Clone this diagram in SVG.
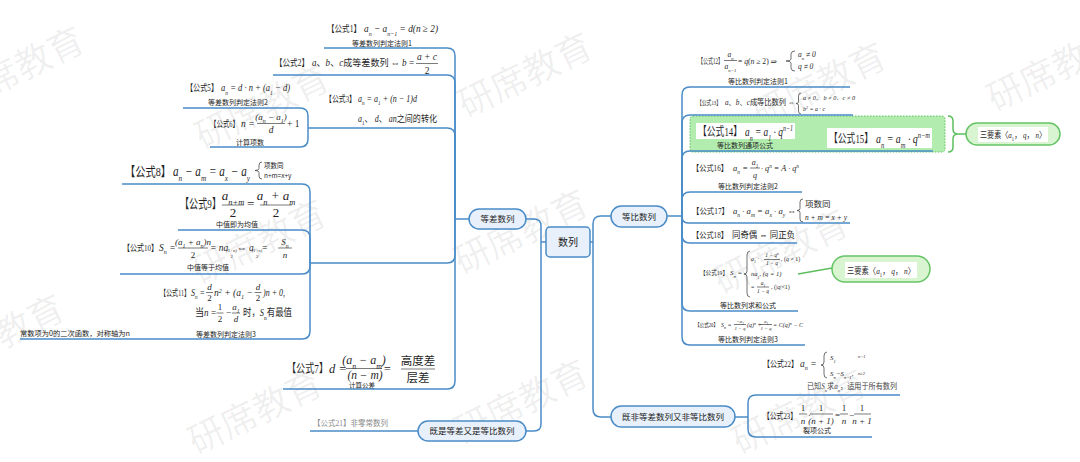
<svg xmlns="http://www.w3.org/2000/svg" width="1080" height="462" viewBox="0 0 1080 462">
<style>
.ln{fill:none;stroke:#4a8cc8;stroke-width:1.5}
.gl{fill:none;stroke:#5dbf5d;stroke-width:1.5}
.pill{fill:#e8f1fb;stroke:#4a8cc8;stroke-width:1.5}
.gp{fill:#d8f4d0;stroke:#66c466;stroke-width:1.5}
.nt{font-family:"Noto Sans CJK SC",sans-serif;font-size:8.5px;fill:#1a1a1a;text-anchor:middle}
.m{font-family:"Liberation Serif","DejaVu Serif","Noto Sans CJK SC",serif;fill:#1f1f1f}
.v{font-style:italic}
.c{text-anchor:middle}
.sb{font-size:65%;baseline-shift:sub}
.sp{font-size:65%;baseline-shift:super}
.lb{font-family:"Noto Sans CJK SC",sans-serif;font-size:7px;fill:#222;text-anchor:middle}
.sm{font-family:"Noto Sans CJK SC",sans-serif;font-size:6.5px;fill:#222}
.fr{stroke:#222;stroke-width:0.6}
.br{fill:none;stroke:#333;stroke-width:0.7}
.wm{font-family:"Noto Sans CJK SC",sans-serif;font-size:36px;fill:#000;fill-opacity:0.065}
</style>

<g id="watermark">
<text class="wm" transform="translate(-42 112) rotate(-26)">研席教育</text>
<text class="wm" transform="translate(203 150) rotate(-26)">研席教育</text>
<text class="wm" transform="translate(466 118) rotate(-26)">研席教育</text>
<text class="wm" transform="translate(760 128) rotate(-26)">研席教育</text>
<text class="wm" transform="translate(995 112) rotate(-26)">研席教育</text>
<text class="wm" transform="translate(200 285) rotate(-26)">研席教育</text>
<text class="wm" transform="translate(462 275) rotate(-26)">研席教育</text>
<text class="wm" transform="translate(722 295) rotate(-26)">研席教育</text>
<text class="wm" transform="translate(-62 380) rotate(-26)">研席教育</text>
<text class="wm" transform="translate(196 455) rotate(-26)">研席教育</text>
<text class="wm" transform="translate(462 445) rotate(-26)">研席教育</text>
<text class="wm" transform="translate(740 455) rotate(-26)">研席教育</text>
</g>

<g id="n-root"><rect x="546" y="227" width="44" height="30" rx="4" class="pill"/><text class="nt" x="568" y="245.5" style="font-size:10px">数列</text></g>
<g id="n-dengcha"><rect x="469" y="209" width="57" height="20" rx="10" class="pill"/><text class="nt" x="497.5" y="222">等差数列</text></g>
<g id="n-dengbi"><rect x="611" y="206" width="56" height="21" rx="10.5" class="pill"/><text class="nt" x="639" y="219.5">等比数列</text></g>
<g id="n-jishi"><rect x="418" y="421" width="108" height="20" rx="10" class="pill"/><text class="nt" x="472" y="434">既是等差又是等比数列</text></g>
<g id="n-jifei"><rect x="611" y="406" width="124" height="21" rx="10.5" class="pill"/><text class="nt" x="673" y="419.5">既非等差数列又非等比数列</text></g>

<g id="f1">
<text class="m" x="327" y="32" font-size="9.5" textLength="34" lengthAdjust="spacingAndGlyphs">【公式1】</text>
<text class="m v" x="364" y="32" font-size="10.5" textLength="74" lengthAdjust="spacingAndGlyphs">a<tspan class="sb">n</tspan> − a<tspan class="sb">n−1</tspan> = d(n ≥ 2)</text>
<text class="lb" x="382" y="46">等差数列判定法则1</text>
</g>
<g id="f2">
<text class="m" x="275" y="66" font-size="9.5" textLength="34" lengthAdjust="spacingAndGlyphs">【公式2】</text>
<text class="m" x="312" y="66" font-size="9.5" textLength="102" lengthAdjust="spacingAndGlyphs"><tspan class="v">a</tspan>、<tspan class="v">b</tspan>、<tspan class="v">c</tspan>成等差数列 ⇔ <tspan class="v">b</tspan> =</text>
<text class="m v c" x="427" y="60" font-size="9.5">a + c</text>
<line class="fr" x1="416" y1="63.5" x2="438" y2="63.5"/>
<text class="m c" x="427" y="74" font-size="9.5">2</text>
</g>
<g id="f3">
<text class="m" x="325" y="102" font-size="9" textLength="31" lengthAdjust="spacingAndGlyphs">【公式3】</text>
<text class="m v" x="358" y="102" font-size="9.5" textLength="59" lengthAdjust="spacingAndGlyphs">a<tspan class="sb">n</tspan> = a<tspan class="sb">1</tspan> + (n − 1)d</text>
<text class="m" x="358" y="122" font-size="9.5" textLength="79" lengthAdjust="spacingAndGlyphs"><tspan class="v">a</tspan><tspan class="sb">1</tspan>、 <tspan class="v">d</tspan>、 <tspan class="v">an</tspan>之间的转化</text>
</g>
<g id="f5">
<text class="m" x="186" y="91" font-size="9.5" textLength="32" lengthAdjust="spacingAndGlyphs">【公式5】</text>
<text class="m v" x="221" y="91" font-size="10" textLength="69" lengthAdjust="spacingAndGlyphs">a<tspan class="sb">n</tspan> = d · n + (a<tspan class="sb">1</tspan> − d)</text>
<text class="lb" x="238" y="105">等差数列判定法则2</text>
</g>
<g id="f6">
<text class="m" x="210" y="127" font-size="9" textLength="29" lengthAdjust="spacingAndGlyphs">【公式6】</text>
<text class="m v" x="241" y="127" font-size="9.5">n =</text>
<text class="m v c" x="271" y="120" font-size="9">(a<tspan class="sb">n</tspan> − a<tspan class="sb">1</tspan>)</text>
<line class="fr" x1="257" y1="123.5" x2="285" y2="123.5"/>
<text class="m v c" x="271" y="133" font-size="9.5">d</text>
<text class="m" x="287" y="127" font-size="9.5">+ 1</text>
<text class="lb" x="250" y="144.5">计算项数</text>
</g>
<g id="f8">
<text class="m" x="125" y="176" font-size="13" textLength="46" lengthAdjust="spacingAndGlyphs">【公式8】</text>
<text class="m v" x="173" y="176" font-size="14" textLength="77" lengthAdjust="spacingAndGlyphs">a<tspan class="sb">n</tspan> − a<tspan class="sb">m</tspan> = a<tspan class="sb">x</tspan> − a<tspan class="sb">y</tspan></text>
<path class="br" d="M262 162 Q259 162 259 165 V168.5 Q259 170.5 255 170.5 Q259 170.5 259 172.5 V176 Q259 179 262 179"/>
<text class="sm" x="264" y="168">项数同</text>
<text class="sm" x="264" y="178">n+m=x+y</text>
</g>
<g id="f9">
<text class="m" x="180" y="208" font-size="13" textLength="41" lengthAdjust="spacingAndGlyphs">【公式9】</text>
<text class="m v c" x="233" y="199.5" font-size="13">a<tspan class="sb">n+m</tspan></text>
<line class="fr" x1="222" y1="205" x2="244" y2="205"/>
<text class="m c" x="233" y="216.5" font-size="13">2</text>
<text class="m" x="247" y="208" font-size="13">=</text>
<text class="m v c" x="276" y="199.5" font-size="13">a<tspan class="sb">n</tspan> + a<tspan class="sb">m</tspan></text>
<line class="fr" x1="260" y1="205" x2="292" y2="205"/>
<text class="m c" x="276" y="216.5" font-size="13">2</text>
<text class="lb" x="237" y="227">中值即为均值</text>
</g>
<g id="f10">
<text class="m" x="123" y="251" font-size="9" textLength="35" lengthAdjust="spacingAndGlyphs">【公式10】</text>
<text class="m v" x="159" y="251" font-size="9.5">S<tspan class="sb">n</tspan> =</text>
<text class="m v c" x="193" y="244.5" font-size="9">(a<tspan class="sb">1</tspan> + a<tspan class="sb">n</tspan>)n</text>
<line class="fr" x1="178" y1="248" x2="208" y2="248"/>
<text class="m c" x="193" y="258" font-size="9">2</text>
<text class="m v" x="210" y="251" font-size="9.5">= na</text>
<text class="m v c" x="231.5" y="252" font-size="4.5">(1+n)</text>
<text class="m c" x="231.5" y="258" font-size="4.5">2</text>
<text class="m v" x="237" y="251" font-size="9.5">⇔ a</text>
<text class="m v c" x="257" y="252" font-size="4.5">(1+n)</text>
<text class="m c" x="257" y="258" font-size="4.5">2</text>
<text class="m" x="262" y="251" font-size="9.5">=</text>
<text class="m v c" x="285" y="244.5" font-size="9">S<tspan class="sb">n</tspan></text>
<line class="fr" x1="278" y1="248" x2="292" y2="248"/>
<text class="m v c" x="285" y="258" font-size="9">n</text>
<text class="lb" x="208" y="270">中值等于均值</text>
</g>
<g id="f11">
<text class="m" x="160" y="296" font-size="9" textLength="30" lengthAdjust="spacingAndGlyphs">【公式11】</text>
<text class="m v" x="191" y="296" font-size="9.5" textLength="14" lengthAdjust="spacingAndGlyphs">S<tspan class="sb">n</tspan> =</text>
<text class="m v c" x="209.5" y="290" font-size="9">d</text>
<line class="fr" x1="206" y1="292.5" x2="213" y2="292.5"/>
<text class="m c" x="209.5" y="301" font-size="9">2</text>
<text class="m v" x="214" y="296" font-size="9.5" textLength="39" lengthAdjust="spacingAndGlyphs">n<tspan class="sp">2</tspan> + (a<tspan class="sb">1</tspan> −</text>
<text class="m v c" x="258" y="290" font-size="9">d</text>
<line class="fr" x1="254.5" y1="292.5" x2="261.5" y2="292.5"/>
<text class="m c" x="258" y="301" font-size="9">2</text>
<text class="m v" x="263" y="296" font-size="9.5" textLength="22" lengthAdjust="spacingAndGlyphs">)n + 0,</text>
<text class="m" x="195" y="316" font-size="10" textLength="21" lengthAdjust="spacingAndGlyphs">当<tspan class="v">n</tspan> =</text>
<text class="m c" x="220" y="310" font-size="9">1</text>
<line class="fr" x1="216.5" y1="313" x2="223.5" y2="313"/>
<text class="m c" x="220" y="322" font-size="9">2</text>
<text class="m" x="226" y="316" font-size="9.5">−</text>
<text class="m v c" x="236" y="310" font-size="9">a<tspan class="sb">1</tspan></text>
<line class="fr" x1="232" y1="313" x2="240" y2="313"/>
<text class="m v c" x="236" y="322" font-size="9">d</text>
<text class="m" x="243" y="316" font-size="10" textLength="49" lengthAdjust="spacingAndGlyphs">时，<tspan class="v">S</tspan><tspan class="sb">n</tspan>有最值</text>
<text class="lb" x="226" y="336.5">等差数列判定法则3</text>
<text class="sm" x="20" y="336" style="font-size:7px" textLength="110" lengthAdjust="spacingAndGlyphs">常数项为0的二次函数，对称轴为n</text>
</g>
<g id="f7">
<text class="m" x="287" y="373" font-size="12" textLength="41" lengthAdjust="spacingAndGlyphs">【公式7】</text>
<text class="m v" x="329" y="373" font-size="12.5">d =</text>
<text class="m v c" x="364" y="363.5" font-size="12">(a<tspan class="sb">n</tspan> − a<tspan class="sb">m</tspan>)</text>
<line class="fr" x1="346" y1="368.5" x2="382" y2="368.5"/>
<text class="m v c" x="365" y="379" font-size="11.5">(n − m)</text>
<text class="m" x="384" y="373" font-size="12">=</text>
<text class="m c" x="418" y="365" font-size="11.5">高度差</text>
<line class="fr" x1="401" y1="369" x2="435" y2="369"/>
<text class="m c" x="418" y="382" font-size="11.5">层差</text>
<text class="lb" x="362" y="387.5" style="font-size:6.5px">计算公差</text>
</g>
<g id="f21">
<text class="m" x="313" y="426" font-size="8" textLength="75" lengthAdjust="spacingAndGlyphs" style="fill:#8a8a8a">【公式21】非零常数列</text>
</g>

<g id="f12">
<text class="m" x="698" y="64" font-size="8" textLength="25" lengthAdjust="spacingAndGlyphs">【公式12】</text>
<text class="m v c" x="730.5" y="56.5" font-size="7.5">a<tspan class="sb">n</tspan></text>
<line class="fr" x1="724" y1="60.5" x2="737" y2="60.5"/>
<text class="m v c" x="730.5" y="68.5" font-size="7.5">a<tspan class="sb">n−1</tspan></text>
<text class="m" x="738" y="64" font-size="8" textLength="39" lengthAdjust="spacingAndGlyphs">= <tspan class="v">q</tspan>(<tspan class="v">n</tspan> ≥ 2) ⇒</text>
<path class="br" d="M795 51 Q791 51 791 54 V59 Q791 61 786 61 Q791 61 791 63 V68 Q791 71 795 71"/>
<text class="m v" x="798" y="57" font-size="7.5">a<tspan class="sb">n</tspan> ≠ 0</text>
<text class="m v" x="798" y="69" font-size="7.5">q ≠ 0</text>
<text class="lb" x="758" y="84">等比数列判定法则1</text>
</g>
<g id="f13">
<text class="m" x="697" y="105" font-size="7" textLength="24" lengthAdjust="spacingAndGlyphs">【公式13】</text>
<text class="m" x="725" y="105" font-size="7.5" textLength="70" lengthAdjust="spacingAndGlyphs"><tspan class="v">a</tspan>、<tspan class="v">b</tspan>、<tspan class="v">c</tspan>成等比数列 ⇔</text>
<path class="br" d="M801 93 Q798.5 93 798.5 96 V101.5 Q798.5 103.5 796 103.5 Q798.5 103.5 798.5 105.5 V111 Q798.5 114 801 114"/>
<text class="m v" x="803" y="99.5" font-size="6" textLength="52" lengthAdjust="spacingAndGlyphs">a ≠ 0、 b ≠ 0、c ≠ 0</text>
<text class="m v" x="803" y="111" font-size="6">b<tspan class="sp">2</tspan> = a · c</text>
</g>
<g id="f14">
<rect x="690" y="116" width="255" height="36" rx="3" fill="#b2ecae" stroke="#62c262" stroke-width="1" stroke-dasharray="1.5 1.5"/>
<rect x="696" y="123" width="99" height="16" fill="#fff"/>
<text class="m" x="698" y="136" font-size="12" textLength="44" lengthAdjust="spacingAndGlyphs">【公式14】</text>
<text class="m v" x="745" y="136" font-size="13" textLength="48" lengthAdjust="spacingAndGlyphs">a<tspan class="sb">n</tspan> = a<tspan class="sb">1</tspan> · q<tspan class="sp">n−1</tspan></text>
<text class="lb" x="745" y="147.5">等比数列通项公式</text>
<rect x="827" y="128" width="105" height="20" fill="#fff"/>
<text class="m" x="829" y="142.5" font-size="12" textLength="44" lengthAdjust="spacingAndGlyphs">【公式15】</text>
<text class="m v" x="876" y="142.5" font-size="13" textLength="54" lengthAdjust="spacingAndGlyphs">a<tspan class="sb">n</tspan> = a<tspan class="sb">m</tspan> · q<tspan class="sp">n−m</tspan></text>
</g>
<g id="n-sanyaosu1">
<rect x="966" y="123" width="94" height="22" rx="11" class="gp"/>
<rect x="978" y="127" width="70" height="15" fill="#fff"/>
<text class="m" x="980" y="138" font-size="9" textLength="66" lengthAdjust="spacingAndGlyphs">三要素〈<tspan class="v">a</tspan><tspan class="sb">1</tspan>， <tspan class="v">q</tspan>， <tspan class="v">n</tspan>〉</text>
</g>
<g id="f16">
<text class="m" x="692" y="171" font-size="8.5" textLength="36" lengthAdjust="spacingAndGlyphs">【公式16】</text>
<text class="m v" x="733" y="171" font-size="8.5">a<tspan class="sb">n</tspan> =</text>
<text class="m v c" x="755" y="164.5" font-size="8">a<tspan class="sb">1</tspan></text>
<line class="fr" x1="750" y1="168" x2="760" y2="168"/>
<text class="m v c" x="755" y="178" font-size="8">q</text>
<text class="m v" x="761" y="171" font-size="8.5" textLength="38" lengthAdjust="spacingAndGlyphs">· q<tspan class="sp">n</tspan> = A · q<tspan class="sp">n</tspan></text>
<text class="lb" x="748" y="188.5">等比数列判定法则2</text>
</g>
<g id="f17">
<text class="m" x="692" y="213.5" font-size="8.5" textLength="37" lengthAdjust="spacingAndGlyphs">【公式17】</text>
<text class="m v" x="733" y="213.5" font-size="8.5" textLength="63" lengthAdjust="spacingAndGlyphs">a<tspan class="sb">n</tspan> · a<tspan class="sb">m</tspan> = a<tspan class="sb">x</tspan> · a<tspan class="sb">y</tspan> ⇔</text>
<path class="br" d="M803 199 Q800 199 800 202 V208.5 Q800 210.5 797 210.5 Q800 210.5 800 212.5 V219 Q800 222 803 222"/>
<text class="m" x="805" y="206.5" font-size="8.5">项数同</text>
<text class="m v" x="805" y="220" font-size="8.5" textLength="42" lengthAdjust="spacingAndGlyphs">n + m = x + y</text>
</g>
<g id="f18">
<text class="m" x="692" y="238" font-size="8.5" textLength="36" lengthAdjust="spacingAndGlyphs">【公式18】</text>
<text class="m" x="732" y="238" font-size="9" textLength="63" lengthAdjust="spacingAndGlyphs">同奇偶 ⇔ 同正负</text>
</g>
<g id="f19">
<text class="m" x="700" y="275" font-size="6.5" textLength="28" lengthAdjust="spacingAndGlyphs">【公式19】</text>
<text class="m v" x="730" y="275" font-size="7">S<tspan class="sb">n</tspan> =</text>
<path class="br" d="M750 251 Q747 251 747 255 V271 Q747 274 744 274 Q747 274 747 277 V293 Q747 297 750 297"/>
<text class="m v" x="751" y="261" font-size="6">a<tspan class="sb">1</tspan> ·</text>
<text class="m v c" x="772" y="257" font-size="5.5">1 − q<tspan class="sp">n</tspan></text>
<line class="fr" x1="764" y1="259.5" x2="780" y2="259.5"/>
<text class="m v c" x="772" y="265" font-size="5.5">1 − q</text>
<text class="m" x="781" y="261" font-size="6">, (<tspan class="v">q</tspan> ≠ 1)</text>
<text class="m v" x="751" y="276" font-size="6.5">na<tspan class="sb">1</tspan>, (q = 1)</text>
<text class="m" x="751" y="289" font-size="6">=</text>
<text class="m v c" x="763" y="285" font-size="5.5">a<tspan class="sb">1</tspan></text>
<line class="fr" x1="757" y1="287" x2="769" y2="287"/>
<text class="m v c" x="763" y="293" font-size="5.5">1 − q</text>
<text class="m" x="771" y="289" font-size="6">, (|<tspan class="v">q</tspan>|&lt;1)</text>
<text class="lb" x="748" y="307.5">等比数列求和公式</text>
</g>
<g id="n-sanyaosu2">
<rect x="832" y="256" width="98" height="26" rx="13" class="gp"/>
<rect x="845" y="262" width="72" height="16" fill="#fff"/>
<text class="m" x="847" y="274" font-size="9" textLength="68" lengthAdjust="spacingAndGlyphs">三要素〈<tspan class="v">a</tspan><tspan class="sb">1</tspan>， <tspan class="v">q</tspan>， <tspan class="v">n</tspan>〉</text>
</g>
<g id="f20">
<text class="m" x="695" y="327" font-size="5.5" textLength="23" lengthAdjust="spacingAndGlyphs">【公式20】</text>
<text class="m v" x="721" y="327" font-size="6">S<tspan class="sb">n</tspan> =</text>
<text class="m v c" x="740" y="322.5" font-size="5">−a<tspan class="sb">1</tspan></text>
<line class="fr" x1="734" y1="324.5" x2="746" y2="324.5"/>
<text class="m v c" x="740" y="330" font-size="5">1 − q</text>
<text class="m v" x="747" y="327" font-size="6">(q)<tspan class="sp">n</tspan> +</text>
<text class="m v c" x="766" y="322.5" font-size="5">a<tspan class="sb">1</tspan></text>
<line class="fr" x1="760" y1="324.5" x2="772" y2="324.5"/>
<text class="m v c" x="766" y="330" font-size="5">1 − q</text>
<text class="m v" x="773" y="327" font-size="6" textLength="30" lengthAdjust="spacingAndGlyphs">= C(q)<tspan class="sp">n</tspan> − C</text>
<text class="lb" x="748" y="341.5">等比数列判定法则3</text>
</g>
<g id="f22">
<text class="m" x="763" y="367" font-size="9" textLength="35" lengthAdjust="spacingAndGlyphs">【公式22】</text>
<text class="m v" x="800" y="367" font-size="9.5">a<tspan class="sb">n</tspan> =</text>
<path class="br" d="M827 352 Q824 352 824 356 V362 Q824 365 821 365 Q824 365 824 368 V374 Q824 378 827 378"/>
<text class="m v" x="830" y="360" font-size="7">S<tspan class="sb">1</tspan></text>
<text class="m v" x="858" y="358" font-size="4.5">n=1</text>
<text class="m v" x="830" y="376" font-size="7">S<tspan class="sb">n</tspan>−S<tspan class="sb">n−1</tspan>,</text>
<text class="m v" x="858" y="375" font-size="4.5">n≥2</text>
<text class="m" x="807" y="389" font-size="7.5" textLength="90" lengthAdjust="spacingAndGlyphs" style="fill:#444">已知<tspan class="v">S</tspan><tspan class="sb">n</tspan>求<tspan class="v">a</tspan><tspan class="sb">n</tspan>，适用于所有数列</text>
</g>
<g id="f23">
<text class="m" x="763" y="419" font-size="9" textLength="34" lengthAdjust="spacingAndGlyphs">【公式23】</text>
<text class="m c" x="803" y="411" font-size="9">1</text>
<line class="fr" x1="799" y1="414" x2="807" y2="414"/>
<text class="m v c" x="803" y="424" font-size="9">n</text>
<text class="m" x="808" y="418" font-size="9">·</text>
<text class="m c" x="821" y="411" font-size="9">1</text>
<line class="fr" x1="810" y1="414" x2="833" y2="414"/>
<text class="m v c" x="821" y="424" font-size="9">(n + 1)</text>
<text class="m" x="835" y="418" font-size="9">=</text>
<text class="m c" x="844" y="411" font-size="9">1</text>
<line class="fr" x1="840" y1="414" x2="848" y2="414"/>
<text class="m v c" x="844" y="424" font-size="9">n</text>
<text class="m" x="849" y="418" font-size="9">−</text>
<text class="m c" x="862" y="411" font-size="9">1</text>
<line class="fr" x1="854" y1="414" x2="871" y2="414"/>
<text class="m v c" x="862" y="424" font-size="9">n + 1</text>
<text class="lb" x="817" y="433">裂项公式</text>
</g>

<g id="connectors">
<path class="ln" d="M324 48 H447 Q455 48 455 56 V219"/>
<path class="ln" d="M273 75 H447 Q455 75 455 83 V219"/>
<path class="ln" d="M308 128 H447 Q455 128 455 136 V219"/>
<path class="ln" d="M183 108 H300 Q308 108 308 116 V128"/>
<path class="ln" d="M210 147 H300 Q308 147 308 139 V128"/>
<path class="ln" d="M310 263 H447 Q455 263 455 255 V219"/>
<path class="ln" d="M122 184 H302 Q310 184 310 192 V263"/>
<path class="ln" d="M178 230 H302 Q310 230 310 238 V263"/>
<path class="ln" d="M120 274 H302 Q310 274 310 266 V263"/>
<path class="ln" d="M20 339 H302 Q310 339 310 331 V263"/>
<path class="ln" d="M283 389 H447 Q455 389 455 381 V219"/>
<path class="ln" d="M455 219 H469"/>
<path class="ln" d="M310 431 H418"/>
<path class="ln" d="M526 219 H534 Q541 219 541 226 V424 Q541 431 534 431 H526"/>
<path class="ln" d="M541 242 H546"/>
<path class="ln" d="M590 242 H593"/>
<path class="ln" d="M611 216 H601 Q593 216 593 224 V409 Q593 417 601 417 H611"/>
<path class="ln" d="M667 216 H682"/>
<path class="ln" d="M850 87 H690 Q682 87 682 95 V216"/>
<path class="ln" d="M853 115 H690 Q682 115 682 123 V216"/>
<path class="ln" d="M933 151 H690 Q682 151 682 159 V216"/>
<path class="ln" d="M802 192 H690 Q682 192 682 200 V216"/>
<path class="ln" d="M850 223 H688 Q682 223 682 216"/>
<path class="ln" d="M797 243 H690 Q682 243 682 235 V216"/>
<path class="ln" d="M798 311 H690 Q682 311 682 303 V216"/>
<path class="ln" d="M805 345 H690 Q682 345 682 337 V216"/>
<path class="ln" d="M735 417 H748"/>
<path class="ln" d="M900 395 H756 Q748 395 748 403 V417"/>
<path class="ln" d="M872 437 H756 Q748 437 748 429 V417"/>
<path class="gl" d="M948 116 Q953 116 953 121 V129 Q953 134 958 134 Q953 134 953 139 V147 Q953 152 948 152"/>
<path class="gl" d="M958 134 H966"/>
<path class="gl" d="M798 274 L832 268"/>
</g>
</svg>
